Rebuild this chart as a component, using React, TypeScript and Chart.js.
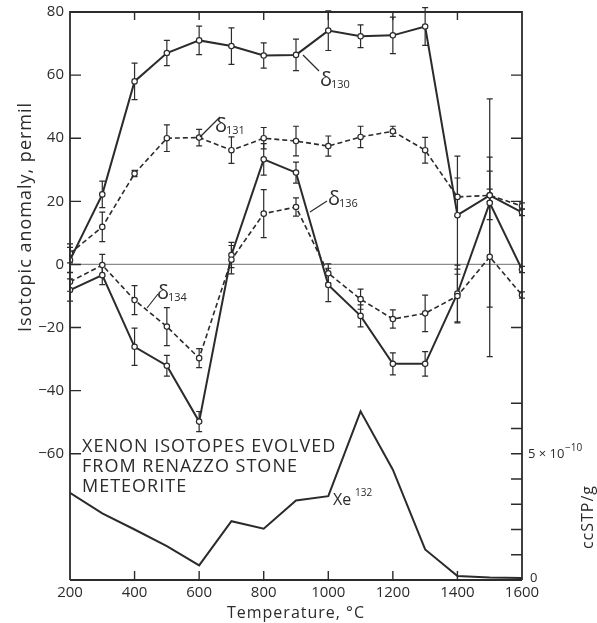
import React, { useEffect, useRef } from "react";
import { Chart, registerables } from "chart.js";

Chart.register(...registerables);

const temps = [200, 300, 400, 500, 600, 700, 800, 900, 1000, 1100, 1200, 1300, 1400, 1500, 1600];
const d130 = [1.4, 22.2, 58, 67, 71, 69.2, 66.2, 66.4, 74.1, 72.3, 72.6, 75.4, 15.6, 21.9, 16.5];
const d130Err = [4, 4.2, 5.8, 4, 4.5, 5.8, 4, 5, 6.3, 3.6, 5.8, 6, 18.7, 2, 1];
const d131 = [3.5, 11.9, 28.8, 40, 40.2, 36.2, 40, 39.1, 37.5, 40.4, 42.2, 36.2, 21.4, 21.9, 18.5];
const d131Err = [3, 4.7, 1, 4.2, 2.6, 4.2, 3.4, 4.7, 3.2, 3.4, 1.6, 4.1, 6, 7.7, 1];
const d134 = [-5.5, -0.2, -11.3, -19.7, -29.7, 1.5, 16.1, 18.2, -2.8, -11, -17.3, -15.5, -10, 2.4, -9.7];
const d134Err = [3, 3.4, 4.6, 6, 3, 4.5, 7.6, 2.9, 3, 3.2, 2.9, 5.8, 8.5, 31.6, 1];
const d136 = [-8.1, -3.4, -26.1, -32.1, -49.8, 3.0, 33.3, 29.1, -6.5, -16.3, -31.5, -31.5, -9.2, 19.5, -1.6];
const d136Err = [3.5, 3, 5.9, 3.3, 3.2, 4, 5, 3.3, 5.3, 3.5, 3.5, 3.9, 9, 33, 1];
// Xe132 in units of 1e-10 ccSTP/g
const xe132 = [3.45, 2.64, 2.0, 1.34, 0.58, 2.33, 2.03, 3.15, 3.32, 6.68, 4.37, 1.21, 0.16, 0.1, 0.08];

const xTickLabels = ["200", "400", "600", "800", "1000", "1200", "1400", "1600"];
const xTickValues = [200, 400, 600, 800, 1000, 1200, 1400, 1600];
const yTickValues = [80, 60, 40, 20, 0, -20, -40, -60];
const yTickLabels = ["80", "60", "40", "20", "0", "\u221220", "\u221240", "\u221260"];
const y2TickValues = [0, 1, 2, 3, 4, 5, 6, 7];

const INK = "#2b2b2b";
const FONT = "'Open Sans', 'DejaVu Sans', sans-serif";

const seriesWithErrors = [
  { values: d130, errs: d130Err },
  { values: d131, errs: d131Err },
  { values: d134, errs: d134Err },
  { values: d136, errs: d136Err },
];

const overlay = {
  id: "overlay",
  beforeDatasetsDraw(chart: any) {
    const { ctx, chartArea } = chart;
    const x = chart.scales.x;
    const y = chart.scales.y;
    ctx.save();
    // zero line
    ctx.strokeStyle = "#8a8a8a";
    ctx.lineWidth = 1.2;
    ctx.beginPath();
    const y0 = y.getPixelForValue(0);
    ctx.moveTo(chartArea.left, y0);
    ctx.lineTo(chartArea.right, y0);
    ctx.stroke();
    // error bars
    ctx.strokeStyle = INK;
    ctx.lineWidth = 1.2;
    seriesWithErrors.forEach((s) => {
      s.values.forEach((v, i) => {
        const px = x.getPixelForValue(temps[i]);
        const top = y.getPixelForValue(v + s.errs[i]);
        const bot = y.getPixelForValue(v - s.errs[i]);
        ctx.beginPath();
        ctx.moveTo(px, top);
        ctx.lineTo(px, bot);
        ctx.moveTo(px - 3, top);
        ctx.lineTo(px + 3, top);
        ctx.moveTo(px - 3, bot);
        ctx.lineTo(px + 3, bot);
        ctx.stroke();
      });
    });
    ctx.restore();
  },
  afterDraw(chart: any) {
    const { ctx, chartArea } = chart;
    const x = chart.scales.x;
    const y = chart.scales.y;
    const y2 = chart.scales.y2;
    const L = chartArea.left, R = chartArea.right, T = chartArea.top, B = chartArea.bottom;
    ctx.save();
    ctx.strokeStyle = INK;
    ctx.lineWidth = 1.8;
    ctx.beginPath();
    ctx.moveTo(L, B);
    ctx.lineTo(L, T);
    ctx.lineTo(R, T);
    ctx.lineTo(R, B);
    ctx.moveTo(L, B);
    ctx.lineTo(R, B);
    ctx.stroke();

    ctx.lineWidth = 1.4;
    ctx.beginPath();
    yTickValues.forEach((v) => {
      const py = y.getPixelForValue(v);
      ctx.moveTo(L, py);
      ctx.lineTo(L + 11, py);
    });
    [60, 40, 20, -20].forEach((v) => {
      const py = y.getPixelForValue(v);
      ctx.moveTo(R, py);
      ctx.lineTo(R - 11, py);
    });
    y2TickValues.forEach((v) => {
      const py = y2.getPixelForValue(v);
      ctx.moveTo(R, py);
      ctx.lineTo(R - 11, py);
    });
    [400, 600, 800, 1000, 1200, 1400].forEach((v) => {
      const px = x.getPixelForValue(v);
      ctx.moveTo(px, T);
      ctx.lineTo(px, T + 8);
      ctx.moveTo(px, B);
      ctx.lineTo(px, B - 9);
    });
    ctx.stroke();

    ctx.fillStyle = INK;
    ctx.font = `15px ${FONT}`;
    ctx.textAlign = "right";
    ctx.textBaseline = "middle";
    yTickValues.forEach((v, i) => {
      ctx.fillText(yTickLabels[i], L - 6, y.getPixelForValue(v));
    });
    ctx.textAlign = "center";
    xTickValues.forEach((v, i) => {
      ctx.fillText(xTickLabels[i], x.getPixelForValue(v), B + 13);
    });
    ctx.textAlign = "left";
    ctx.font = `13px ${FONT}`;
    ctx.fillText("0", R + 8, y2.getPixelForValue(0) - 2);
    const p5 = y2.getPixelForValue(5);
    ctx.fillText("5 \u00d7 10", R + 6, p5 + 1);
    ctx.font = `10px ${FONT}`;
    ctx.fillText("\u221210", R + 43, p5 - 6);

    ctx.textAlign = "center";
    ctx.font = `16px ${FONT}`;
    (ctx as any).letterSpacing = "1px";
    ctx.fillText("Temperature, \u00b0C", (L + R) / 2, B + 33);
    ctx.save();
    ctx.translate(26, 217);
    ctx.rotate(-Math.PI / 2);
    ctx.font = `18px ${FONT}`;
    ctx.fillText("Isotopic anomaly, permil", 0, 0);
    ctx.restore();
    ctx.save();
    ctx.translate(588, 517);
    ctx.rotate(-Math.PI / 2);
    ctx.font = `16px ${FONT}`;
    ctx.fillText("ccSTP/g", 0, 0);
    ctx.restore();

    ctx.font = `18px ${FONT}`;
    ctx.textAlign = "left";
    ctx.textBaseline = "alphabetic";
    ctx.fillText("XENON ISOTOPES EVOLVED", 82, 452);
    ctx.fillText("FROM RENAZZO STONE", 82, 472);
    ctx.fillText("METEORITE", 82, 492);
    (ctx as any).letterSpacing = "0px";

    ctx.font = `16px ${FONT}`;
    ctx.fillText("Xe", 333, 505);
    ctx.font = `10px ${FONT}`;
    ctx.fillText("132", 355, 496);

    const delta = (tx: number, ty: number, sub: string, lx1: number, ly1: number, lx2: number, ly2: number) => {
      ctx.lineWidth = 1.2;
      ctx.beginPath();
      ctx.moveTo(lx1, ly1);
      ctx.lineTo(lx2, ly2);
      ctx.stroke();
      ctx.font = `20px ${FONT}`;
      ctx.fillText("\u03b4", tx, ty);
      ctx.font = `11px ${FONT}`;
      ctx.fillText(sub, tx + 11, ty + 2);
    };
    delta(320, 86, "130", 303, 55, 319, 71);
    delta(215, 132, "131", 200, 137, 220, 117);
    delta(328, 205, "136", 310, 212, 327, 201);
    delta(157, 299, "134", 147, 308, 158, 294);
    ctx.restore();
  },
};

export default function App() {
  const ref = useRef<HTMLCanvasElement | null>(null);
  useEffect(() => {
    if (!ref.current) return;
    const pts = (arr: number[]) => arr.map((v, i) => ({ x: temps[i], y: v }));
    const common = {
      borderColor: INK,
      pointRadius: 2.7,
      pointBackgroundColor: "#ffffff",
      pointBorderColor: INK,
      pointBorderWidth: 1.2,
      tension: 0,
      yAxisID: "y",
    };
    const chart = new Chart(ref.current, {
      type: "line",
      data: {
        datasets: [
          { ...common, label: "δ130", data: pts(d130), borderWidth: 2 },
          { ...common, label: "δ131", data: pts(d131), borderWidth: 1.6, borderDash: [5, 3] },
          { ...common, label: "δ134", data: pts(d134), borderWidth: 1.6, borderDash: [5, 3] },
          { ...common, label: "δ136", data: pts(d136), borderWidth: 2 },
          {
            label: "Xe132",
            data: pts(xe132),
            borderColor: INK,
            borderWidth: 2,
            pointRadius: 0,
            tension: 0,
            yAxisID: "y2",
          },
        ] as any,
      },
      options: {
        animation: false,
        responsive: false,
        events: [],
        layout: { padding: { left: 70, right: 75, top: 12, bottom: 43 } },
        plugins: { legend: { display: false }, tooltip: { enabled: false } },
        scales: {
          x: { type: "linear", min: 200, max: 1600, display: false },
          y: { type: "linear", min: -100, max: 80, display: false },
          y2: { type: "linear", min: 0, max: 22.5, display: false, position: "right" },
        },
      },
      plugins: [overlay],
    });
    return () => chart.destroy();
  }, []);
  return (
    <div style={{ position: "absolute", left: 0, top: 0, width: 597, height: 623, background: "#fff" }}>
      <canvas ref={ref} width={597} height={623} style={{ width: 597, height: 623 }} />
    </div>
  );
}
